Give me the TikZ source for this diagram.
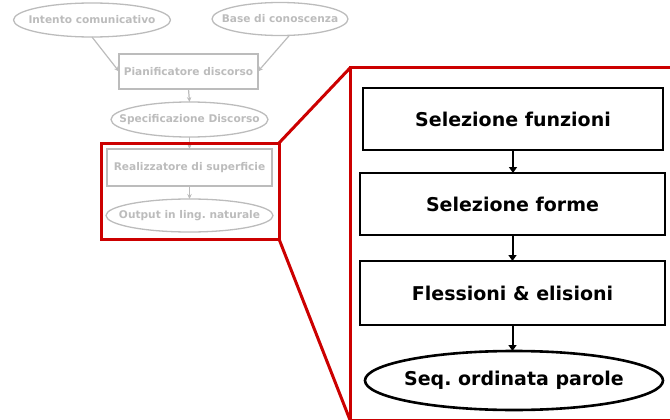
\documentclass[tikz,border=0pt]{standalone}
\usepackage{fontspec}
\setmainfont{DejaVu Sans}
\usetikzlibrary{shapes.geometric,arrows.meta}
\definecolor{zoomred}{RGB}{204,0,0}
\definecolor{faded}{RGB}{188,188,188}
\frenchspacing
\begin{document}
\begin{tikzpicture}[x=1pt,y=-1pt,
  fadedfont/.style={text=faded,font=\bfseries\fontsize{10.6}{12}\selectfont},
  fadedbase/.style={draw=faded,line width=1.3pt,inner sep=0pt,outer sep=0pt},
  fadedbox/.style={fadedbase,fadedfont,rectangle},
  fadedoval/.style={fadedbase,ellipse,label={[fadedfont]center:#1}},
  fadedarrow/.style={draw=faded,line width=1.2pt,-{Stealth[length=5pt,width=4.5pt]}},
  stagefont/.style={font=\bfseries\fontsize{19}{21}\selectfont},
  stagebase/.style={draw=black,line width=2.6pt,inner sep=0pt,outer sep=0pt},
  stagebox/.style={stagebase,stagefont,rectangle},
  stageoval/.style={stagebase,ellipse,label={[stagefont]center:#1}},
  stagearrow/.style={draw=black,line width=2pt,-{Triangle[length=6pt,width=8pt]}},
  zoomframe/.style={draw=zoomred,line width=3pt,outer sep=0pt,inner sep=0pt},
  zoomline/.style={draw=zoomred,line width=3pt}
]
\useasboundingbox (0,0) rectangle (670,420);

% overview pipeline (faded)
\node[fadedoval={Intento comunicativo},minimum width=157pt,minimum height=34pt] (intent) at (92,20) {};
\node[fadedoval={Base di conoscenza},minimum width=136pt,minimum height=33pt] (kb) at (280,19) {};
\node[fadedbox,minimum width=139pt,minimum height=35pt] (planner) at (188.5,71.5) {Pianificatore discorso};
\node[fadedoval={Specificazione Discorso},minimum width=157pt,minimum height=35pt] (spec) at (189.5,119.5) {};
\node[fadedbox,minimum width=165pt,minimum height=37pt] (realizer) at (189.5,167.5) {Realizzatore di superficie};
\node[fadedoval={Output in ling. naturale},minimum width=167pt,minimum height=33pt] (output) at (189.5,215.5) {};

\draw[fadedarrow] (intent.south) -- (planner.west);
\draw[fadedarrow] (kb.-60) -- (planner.east);
\draw[fadedarrow] (planner.south) -- (spec.north);
\draw[fadedarrow] (spec.south) -- (realizer.north);
\draw[fadedarrow] (realizer.south) -- (output.north);

% zoom frames
\node[zoomframe,minimum width=178pt,minimum height=96pt] (zoomsrc) at (190,191) {};
\begin{scope}
  \clip (0,0) rectangle (670,420);
  \node[zoomframe,minimum width=340pt,minimum height=352pt] (zoomdst) at (520,244) {};
\end{scope}
\draw[zoomline] (zoomsrc.north east) -- (zoomdst.north west);
\draw[zoomline] (zoomsrc.south east) -- (zoomdst.south west);

% detailed realizer stages
\node[stagebox,minimum width=300pt,minimum height=62pt] (funcs) at (513,119) {Selezione funzioni};
\node[stagebox,minimum width=305pt,minimum height=62pt] (forms) at (512.5,204) {Selezione forme};
\node[stagebox,minimum width=305pt,minimum height=64pt] (infl) at (512.5,293) {Flessioni \& elisioni};
\node[stageoval={Seq. ordinata parole},minimum width=298pt,minimum height=59pt] (seq) at (514,380.5) {};

\draw[stagearrow] (funcs.south) -- (funcs.south |- forms.north);
\draw[stagearrow] (forms.south) -- (forms.south |- infl.north);
\draw[stagearrow] (infl.south) -- (infl.south |- seq.north);
\end{tikzpicture}
\end{document}
